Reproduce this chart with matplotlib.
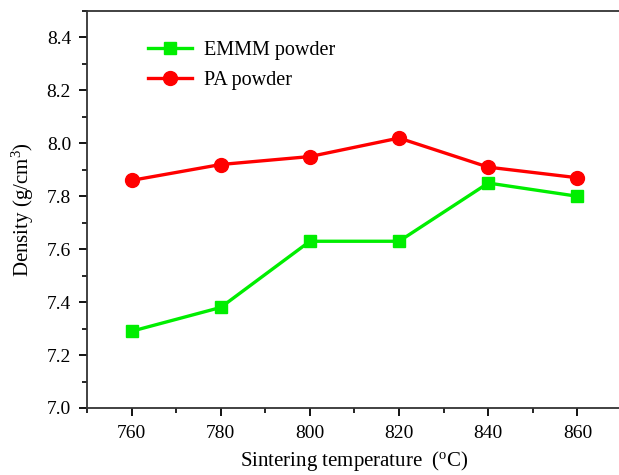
import matplotlib.pyplot as plt
from matplotlib.ticker import MultipleLocator

plt.rcParams['font.family'] = ['Liberation Serif', 'DejaVu Serif']
plt.rcParams['mathtext.fontset'] = 'custom'
plt.rcParams['mathtext.rm'] = 'Liberation Serif'

temps = [760, 780, 800, 820, 840, 860]
emmm = [7.29, 7.38, 7.63, 7.63, 7.85, 7.80]
pa = [7.86, 7.92, 7.95, 8.02, 7.91, 7.87]

fig = plt.figure(figsize=(6.19, 4.75), dpi=100)
ax = fig.add_axes([87 / 619, 67 / 475, 535 / 619, 397 / 475])

ax.plot(temps, emmm, color='#00ee00', lw=2.4, marker='s', ms=9, label='EMMM powder')
ax.plot(temps, pa, color='#ff0000', lw=2.4, marker='o', ms=10, label='PA powder')

ax.set_xlim(750, 870)
ax.set_ylim(7.0, 8.5)
ax.xaxis.set_major_locator(MultipleLocator(20))
ax.xaxis.set_minor_locator(MultipleLocator(10))
ax.yaxis.set_major_locator(MultipleLocator(0.2))
ax.yaxis.set_minor_locator(MultipleLocator(0.1))
ax.yaxis.set_major_formatter(plt.FormatStrFormatter('%.1f'))

ax.tick_params(which='major', direction='out', length=5.5, width=1.3, labelsize=14)
ax.tick_params(axis='x', which='major', pad=7)
ax.tick_params(axis='y', which='major', pad=6)
ax.tick_params(which='minor', direction='out', length=3.5, width=1.2)
for s in ax.spines.values():
    s.set_linewidth(1.3)
    s.set_color('#333333')

ax.set_xlabel(r'Sintering temperature  ($\mathregular{^oC}$)', fontsize=15, labelpad=5)
ax.set_ylabel(r'Density (g/cm$\mathregular{^3}$)', fontsize=15, labelpad=8)

ax.legend(loc='upper left', bbox_to_anchor=(0.08, 0.97), frameon=False, fontsize=14.5,
          handlelength=2.2, labelspacing=0.55, handletextpad=0.6)

fig.savefig('out.png', dpi=100)
